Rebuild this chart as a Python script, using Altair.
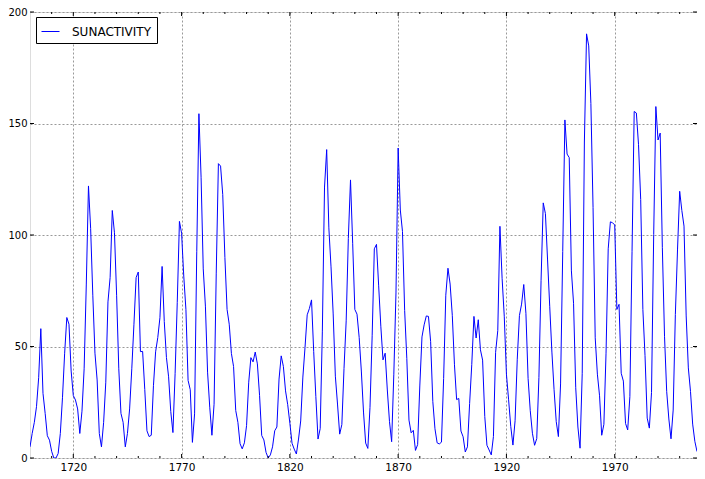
import altair as alt
import pandas as pd

years = list(range(1700, 2009))
sunactivity = [
    5.0, 11.0, 16.0, 23.0, 36.0, 58.0, 29.0, 20.0, 10.0, 8.0,
    3.0, 0.0, 0.0, 2.0, 11.0, 27.0, 47.0, 63.0, 60.0, 39.0,
    28.0, 26.0, 22.0, 11.0, 21.0, 40.0, 78.0, 122.0, 103.0, 73.0,
    47.0, 35.0, 11.0, 5.0, 16.0, 34.0, 70.0, 81.0, 111.0, 101.0,
    73.0, 40.0, 20.0, 16.0, 5.0, 11.0, 22.0, 40.0, 60.0, 80.9,
    83.4, 47.7, 47.8, 30.7, 12.2, 9.6, 10.2, 32.4, 47.6, 54.0,
    62.9, 85.9, 61.2, 45.1, 36.4, 20.9, 11.4, 37.8, 69.8, 106.1,
    100.8, 81.6, 66.5, 34.8, 30.6, 7.0, 19.8, 92.5, 154.4, 125.9,
    84.8, 68.1, 38.5, 22.8, 10.2, 24.1, 82.9, 132.0, 130.9, 118.1,
    89.9, 66.6, 60.0, 46.9, 41.0, 21.3, 16.0, 6.4, 4.1, 6.8,
    14.5, 34.0, 45.0, 43.1, 47.5, 42.2, 28.1, 10.1, 8.1, 2.5,
    0.0, 1.4, 5.0, 12.2, 13.9, 35.4, 45.8, 41.1, 30.1, 23.9,
    15.6, 6.6, 4.0, 1.8, 8.5, 16.6, 36.3, 49.6, 64.2, 67.0,
    70.9, 47.8, 27.5, 8.5, 13.2, 56.9, 121.5, 138.3, 103.2, 85.7,
    64.6, 36.7, 24.2, 10.7, 15.0, 40.1, 61.5, 98.5, 124.7, 96.3,
    66.6, 64.5, 54.1, 39.0, 20.6, 6.7, 4.3, 22.7, 54.8, 93.8,
    95.8, 77.2, 59.1, 44.0, 47.0, 30.5, 16.3, 7.3, 37.6, 74.0,
    139.0, 111.2, 101.6, 66.2, 44.7, 17.0, 11.3, 12.4, 3.4, 6.0,
    32.3, 54.3, 59.7, 63.7, 63.5, 52.2, 25.4, 13.1, 6.8, 6.3,
    7.1, 35.6, 73.0, 85.1, 78.0, 64.0, 41.8, 26.2, 26.7, 12.1,
    9.5, 2.7, 5.0, 24.4, 42.0, 63.5, 53.8, 62.0, 48.5, 43.9,
    18.6, 5.7, 3.6, 1.4, 9.6, 47.4, 57.1, 103.9, 80.6, 63.6,
    37.6, 26.1, 14.2, 5.8, 16.7, 44.3, 63.9, 69.0, 77.8, 64.9,
    35.7, 21.2, 11.1, 5.7, 8.7, 36.1, 79.7, 114.4, 109.6, 88.8,
    67.8, 47.5, 30.6, 16.3, 9.6, 33.2, 92.6, 151.6, 136.3, 134.7,
    83.9, 69.4, 31.5, 13.9, 4.4, 38.0, 141.7, 190.2, 184.8, 159.0,
    112.3, 53.9, 37.6, 27.9, 10.2, 15.1, 47.0, 93.8, 105.9, 105.5,
    104.5, 66.6, 68.9, 38.0, 34.5, 15.5, 12.6, 27.5, 92.5, 155.4,
    154.7, 140.5, 115.9, 66.6, 45.9, 17.9, 13.4, 29.4, 100.2, 157.6,
    142.6, 145.7, 94.3, 54.6, 29.9, 17.5, 8.6, 21.5, 64.3, 93.3,
    119.6, 111.0, 104.0, 63.7, 40.4, 29.8, 15.2, 7.5, 2.9,
]
series_name = "SUNACTIVITY"
x_major = [1720, 1770, 1820, 1870, 1920, 1970]
x_minor = [y for y in range(1710, 2009, 10) if y not in x_major]
y_major = [0, 50, 100, 150, 200]

W, H = 667, 446

df = pd.DataFrame({"year": years, "value": sunactivity, "series": series_name})
xmaj_df = pd.DataFrame({"year": x_major})
xmin_df = pd.DataFrame({"year": x_minor})
ymaj_df = pd.DataFrame({"v": y_major})

xscale = alt.Scale(domain=[1700, 2008], nice=False, zero=False)
yscale = alt.Scale(domain=[0, 200], nice=False)

line = alt.Chart(df).mark_line(strokeWidth=1, clip=True).encode(
    x=alt.X("year:Q", scale=xscale,
            axis=alt.Axis(values=x_major, title=None, format="d", ticks=False,
                          domain=False, grid=True, gridDash=[2, 2],
                          gridColor="#999", gridWidth=1,
                          labelFontSize=10.5,
                          labelPadding=4, labelColor="#000", labelFont="DejaVu Sans")),
    y=alt.Y("value:Q", scale=yscale,
            axis=alt.Axis(values=y_major, title=None, ticks=False, domain=False,
                          grid=True, gridDash=[2, 2], gridColor="#999", gridWidth=1,
                          labelFontSize=10, labelPadding=3,
                          labelColor="#000", labelFont="DejaVu Sans")),
    color=alt.Color("series:N",
                    scale=alt.Scale(domain=[series_name], range=["#0000ff"]),
                    legend=alt.Legend(title=None, orient="none", legendX=6, legendY=5,
                                      strokeColor="#000", fillColor="#fff",
                                      padding=5, cornerRadius=0,
                                      symbolType="stroke", symbolSize=324,
                                      symbolStrokeWidth=1, labelFontSize=12,
                                      labelFont="DejaVu Sans", labelColor="#000",
                                      labelOffset=12)),
)

def xticks(data, length, top):
    if top:
        y0, y1 = 0, length
    else:
        y0, y1 = H - length, H
    return alt.Chart(data).mark_rule(color="#000", strokeWidth=1).encode(
        x=alt.X("year:Q", scale=xscale), y=alt.value(y0), y2=alt.value(y1))

def yticks(length, left):
    if left:
        x0, x1 = 0, length
    else:
        x0, x1 = W - length, W
    return alt.Chart(ymaj_df).mark_rule(color="#000", strokeWidth=1).encode(
        y=alt.Y("v:Q", scale=yscale), x=alt.value(x0), x2=alt.value(x1))

chart = alt.layer(
    line,
    xticks(xmaj_df, 4, True), xticks(xmaj_df, 4, False),
    xticks(xmin_df, 2, True), xticks(xmin_df, 2, False),
    yticks(4, True), yticks(4, False),
).properties(
    width=W, height=H,
    autosize=alt.AutoSizeParams(type="none"),
    padding={"left": 22, "top": 4, "right": 0, "bottom": 20},
).configure_view(
    stroke="#000", strokeWidth=1
).configure(background="#fff")

chart.save("out.html", embed_options={"renderer": "svg", "actions": False})
